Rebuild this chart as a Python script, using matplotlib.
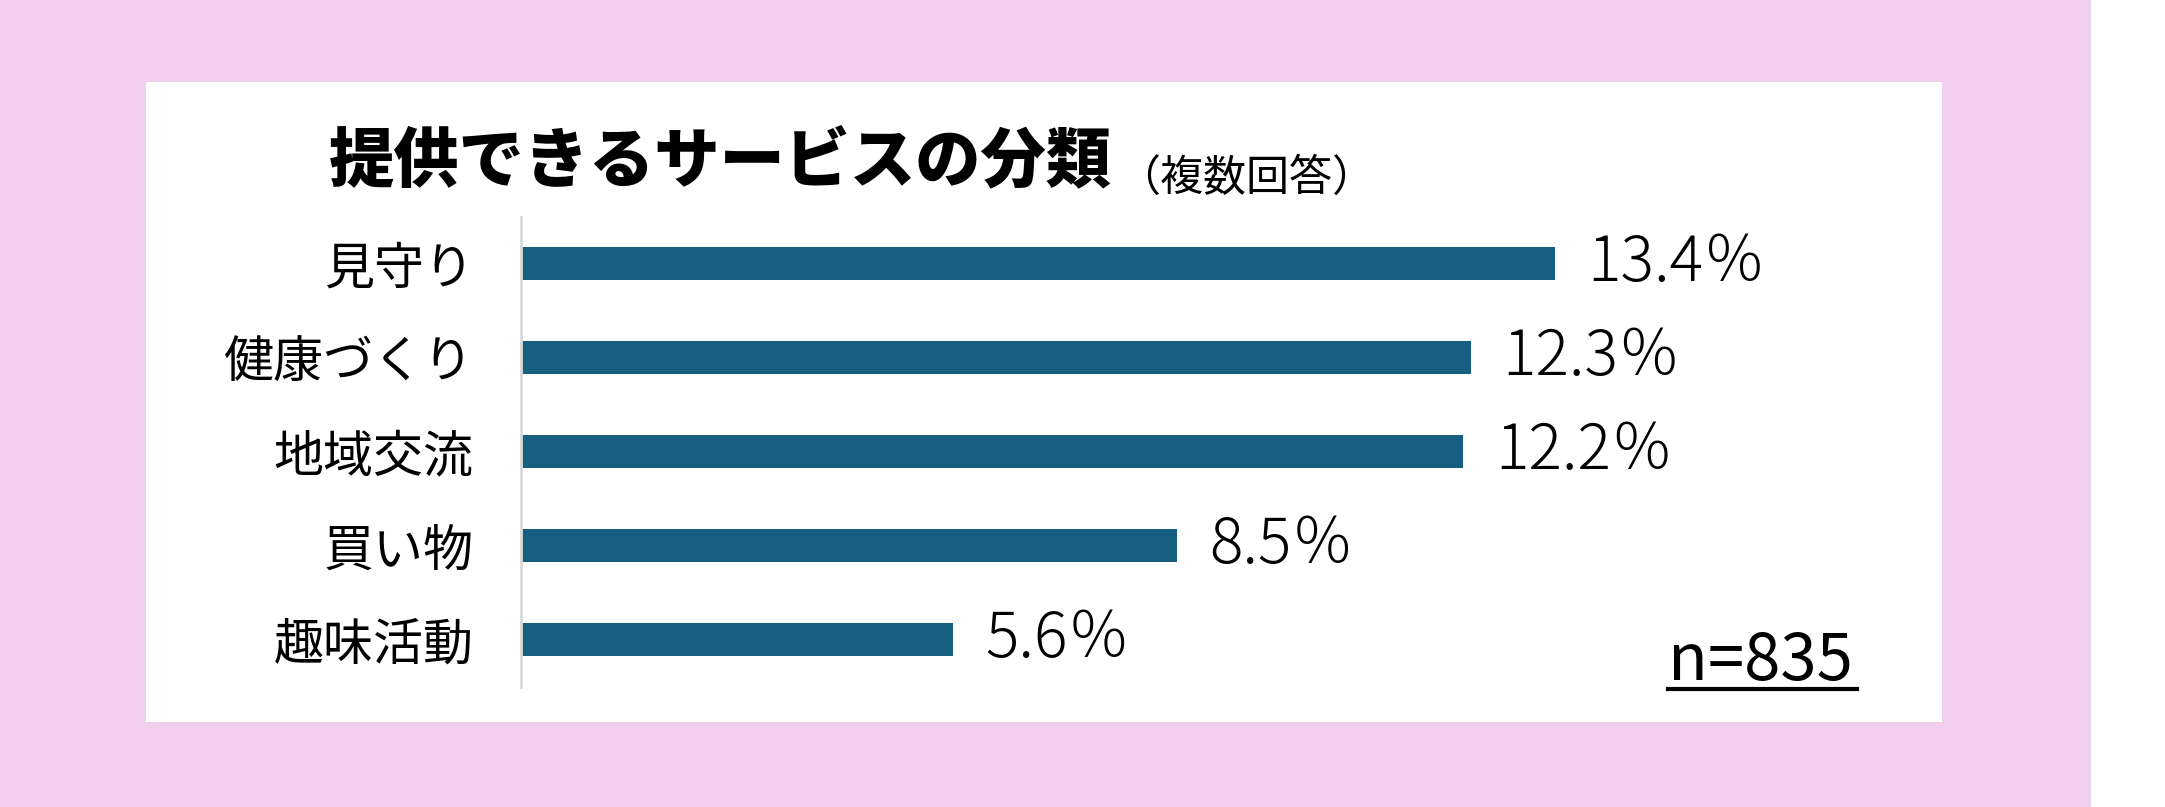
import matplotlib
matplotlib.use("Agg")
import matplotlib.pyplot as plt
from matplotlib.patches import Rectangle
from matplotlib.lines import Line2D

plt.rcParams['font.family'] = ['Noto Sans CJK JP', 'DejaVu Sans']

categories = ["見守り", "健康づくり", "地域交流", "買い物", "趣味活動"]
values = [13.4, 12.3, 12.2, 8.5, 5.6]
title = "提供できるサービスの分類"
subtitle = "（複数回答）"
note = "n=835"

PINK = "#F1CEEE"
BAR = "#175F80"
AXIS = "#D9D9D9"

W, H = 2165, 807
fig = plt.figure(figsize=(W / 100, H / 100), dpi=100, facecolor="white")

# pink background and white panel
fig.add_artist(Rectangle((0, 0), 2091 / W, 1, transform=fig.transFigure,
                         facecolor=PINK, edgecolor="none", zorder=-3))
fig.add_artist(Rectangle((146 / W, (H - 722) / H), (1942 - 146) / W, (722 - 82) / H,
                         transform=fig.transFigure, facecolor="white",
                         edgecolor="none", zorder=-2))

ax_left = 521 / W
ax_width = 18 * 77.2 / W
ax_bottom = (H - 686.5) / H
ax_height = 470 / H
ax = fig.add_axes([ax_left, ax_bottom, ax_width, ax_height])
ax.set_zorder(1)
ax.set_facecolor("none")

y = list(range(len(categories)))
ax.barh(y, values, height=0.351, color=BAR, zorder=2)
ax.set_xlim(0, 18)
ax.set_ylim(len(categories) - 0.5, -0.5)

ax.set_yticks(y)
ax.set_yticklabels(categories, fontsize=36)
ax.tick_params(axis="y", length=0, pad=34)
ax.set_xticks([])
for s in ["top", "right", "bottom"]:
    ax.spines[s].set_visible(False)
ax.spines["left"].set_color(AXIS)
ax.spines["left"].set_linewidth(2.0)

for yi, v in zip(y, values):
    ax.annotate(f"{v}％", xy=(v, yi), xytext=(23, 0), textcoords="offset points",
                ha="left", va="center", fontsize=45, fontweight="light",
                color="black")

fig.text(329 / W, (H - 181) / H, title, fontsize=47, fontweight="heavy",
         ha="left", va="baseline", color="black")
fig.text(1117 / W, (H - 191) / H, subtitle, fontsize=31,
         ha="left", va="baseline", color="black")

fig.text(1668 / W, (H - 680) / H, note, fontsize=47, ha="left",
         va="baseline", color="black")
fig.add_artist(Line2D([1668 / W, 1857 / W], [(H - 689) / H, (H - 689) / H],
                      transform=fig.transFigure, color="black", linewidth=3))

fig.savefig("out.png", dpi=100, facecolor="white")
